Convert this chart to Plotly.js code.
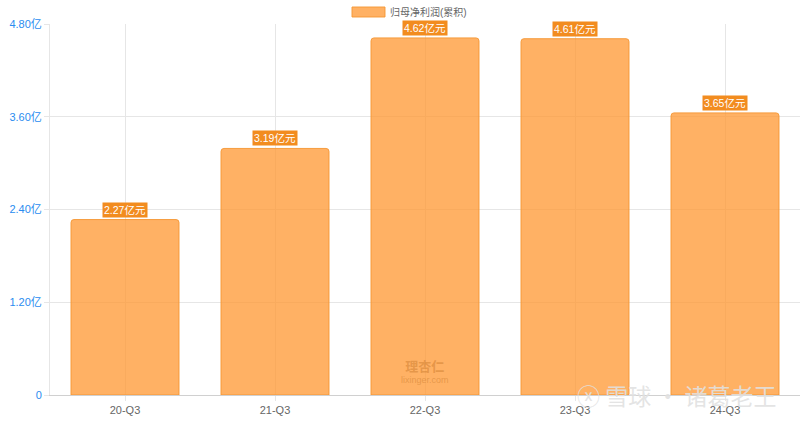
<!DOCTYPE html>
<html>
<head>
<meta charset="utf-8">
<script src="https://cdn.plot.ly/plotly-3.0.1.min.js"></script>
<style>
  html, body { margin: 0; padding: 0; background: #fff; }
  #chart { width: 800px; height: 423px; }
</style>
</head>
<body>
<div id="chart"></div>
<script>
const quarters = ["20-Q3", "21-Q3", "22-Q3", "23-Q3", "24-Q3"];
const profit = [2.27, 3.19, 4.62, 4.61, 3.65];
const profitLabels = ["2.27亿元", "3.19亿元", "4.62亿元", "4.61亿元", "3.65亿元"];
const yTicks = [0, 1.2, 2.4, 3.6, 4.8];
const yTickText = ["0", "1.20亿", "2.40亿", "3.60亿", "4.80亿"];
const seriesName = "归母净利润(累积)";

const font = "Arial, 'Liberation Sans', 'Noto Sans CJK SC', sans-serif";

const trace = {
  x: quarters,
  y: profit,
  name: seriesName,
  type: "bar",
  marker: {
    color: "rgba(255,153,51,0.76)",
    line: { color: "rgba(245,150,50,0.9)", width: 1 },
    cornerradius: 3,
  },
  hoverinfo: "none",
};

// value tags above each bar
const tags = quarters.map((q, i) => ({
  x: q,
  y: profit[i],
  xref: "x",
  yref: "y",
  text: profitLabels[i],
  showarrow: false,
  yanchor: "bottom",
  yshift: 2,
  bgcolor: "#F28C1F",
  borderpad: 1,
  font: { family: font, size: 10.5, color: "#fff" },
}));

// legend drawn by hand (wide swatch), plot area is 750 x 371 px
const legendText = {
  x: (388 - 50) / 750,
  y: 1 + 12 / 371,
  xref: "paper", yref: "paper",
  text: seriesName,
  showarrow: false,
  xanchor: "left",
  yanchor: "middle",
  font: { family: font, size: 10, color: "#666" },
};

const watermarks = [
  {
    x: "22-Q3", y: 0.3, xref: "x", yref: "y",
    text: "<span style='font-size:13px'><b>理杏仁</b></span><br>lixinger.com",
    showarrow: false,
    font: { family: font, size: 9, color: "rgba(190,110,30,0.4)" },
  },
  {
    x: 1, y: 0, xref: "paper", yref: "paper",
    xanchor: "right", yanchor: "middle", xshift: -22,
    text: "ⓧ 雪球 · 诸葛老王",
    showarrow: false,
    font: { family: "'Noto Sans CJK SC', sans-serif", size: 23, color: "rgba(225,225,225,0.9)" },
  },
];

const layout = {
  width: 800,
  height: 423,
  margin: { l: 50, r: 0, t: 24, b: 28, pad: 0 },
  paper_bgcolor: "#fff",
  plot_bgcolor: "#fff",
  showlegend: false,
  bargap: 0.28,
  font: { family: font, size: 11, color: "#666" },
  xaxis: {
    type: "category",
    showgrid: true,
    gridcolor: "#e6e6e6",
    showline: true,
    linecolor: "#d0d0d0",
    ticks: "outside",
    ticklen: 5,
    tickcolor: "#e6e6e6",
    tickfont: { family: font, size: 11, color: "#666" },
    zeroline: false,
    fixedrange: true,
  },
  yaxis: {
    range: [0, 4.8],
    tickvals: yTicks,
    ticktext: yTickText,
    showgrid: true,
    gridcolor: "#e6e6e6",
    showline: true,
    linecolor: "#e6e6e6",
    ticks: "outside",
    ticklen: 5,
    tickcolor: "#e6e6e6",
    tickfont: { family: font, size: 11, color: "#2A8CF0" },
    zeroline: false,
    fixedrange: true,
  },
  shapes: [
    {
      type: "rect",
      xref: "paper", yref: "paper",
      x0: (352 - 50) / 750, x1: (385 - 50) / 750,
      y0: 1 + 7 / 371, y1: 1 + 17 / 371,
      fillcolor: "rgba(255,153,51,0.76)",
      line: { color: "rgba(245,150,50,0.9)", width: 1 },
    },
  ],
  annotations: tags.concat(watermarks, [legendText]),
};

Plotly.newPlot("chart", [trace], layout, { displayModeBar: false, staticPlot: true });
</script>
</body>
</html>
